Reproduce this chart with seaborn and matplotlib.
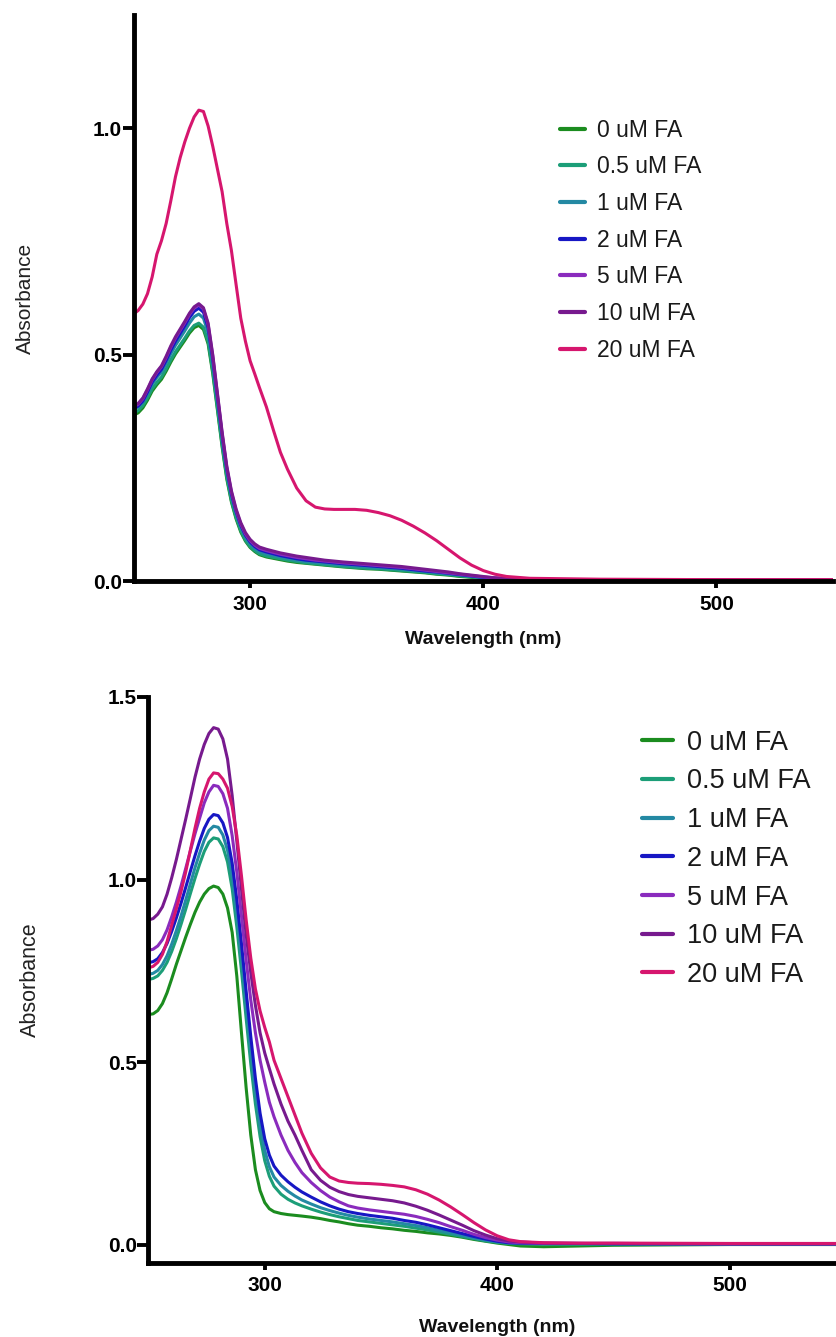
import matplotlib
matplotlib.use("Agg")
import pandas as pd
import matplotlib.pyplot as plt
import seaborn as sns

# wavelengths shared by every spectrum (nm)
wavelength = [250, 252, 254, 256, 258, 260, 262, 264, 266, 268, 270, 272, 274, 276, 278,
              280, 282, 284, 286, 288, 290, 292, 294, 296, 298, 300, 302, 304, 307, 310,
              313, 316, 320, 324, 328, 332, 336, 340, 345, 350, 355, 360, 365, 370, 375,
              380, 385, 390, 395, 400, 405, 410, 420, 435, 450, 500, 550]

labels = ["0 uM FA", "0.5 uM FA", "1 uM FA", "2 uM FA", "5 uM FA", "10 uM FA", "20 uM FA"]
colors = ["#1b8c1f", "#1c9e78", "#2489a3", "#1717c4", "#8a2bbd", "#771a8e", "#d6166e"]

xticks = [300, 400, 500]

# ---- top panel spectra
top_0 = [.367, .372, .383, .400, .420, .434, .446, .464, .484, .502, .517, .532, .548, .560, .565,
         .556, .524, .458, .378, .297, .226, .175, .138, .109, .089, .075, .066, .059, .054, .051,
         .048, .045, .042, .040, .038, .036, .034, .032, .030, .028, .027, .025, .023, .021, .019,
         .016, .014, .011, .009, .006, .004, .003, .003, .002, .002, .002, .002]
top_05 = [.372, .377, .388, .405, .425, .439, .451, .469, .489, .507, .522, .537, .553, .565, .570,
          .561, .529, .463, .382, .301, .230, .178, .141, .112, .091, .077, .068, .061, .056, .053,
          .050, .047, .044, .041, .039, .037, .035, .033, .031, .029, .028, .026, .024, .022, .020,
          .017, .015, .012, .010, .007, .005, .004, .003, .003, .003, .002, .002]
top_1 = [.380, .385, .396, .414, .435, .450, .462, .481, .502, .521, .537, .553, .570, .584, .590,
         .581, .548, .480, .397, .314, .241, .187, .149, .119, .098, .083, .073, .066, .061, .057,
         .054, .051, .047, .044, .042, .040, .038, .036, .034, .032, .030, .029, .027, .024, .022,
         .019, .016, .014, .011, .008, .006, .005, .004, .003, .003, .003, .003]
top_2 = [.382, .387, .398, .418, .440, .455, .468, .488, .510, .530, .547, .564, .582, .596, .603,
         .594, .560, .490, .406, .322, .248, .193, .154, .124, .102, .087, .077, .070, .065, .061,
         .057, .054, .050, .047, .045, .043, .041, .039, .037, .035, .033, .031, .029, .026, .023,
         .021, .018, .015, .012, .009, .007, .006, .004, .004, .003, .003, .003]
top_5 = [.386, .391, .403, .423, .445, .461, .474, .494, .517, .537, .554, .571, .589, .603, .610,
         .601, .567, .497, .412, .327, .252, .197, .157, .127, .105, .090, .080, .073, .068, .064,
         .060, .057, .053, .050, .047, .045, .043, .041, .039, .037, .035, .033, .031, .028, .025,
         .022, .019, .016, .013, .010, .008, .006, .005, .004, .004, .003, .003]
top_10 = [.388, .393, .405, .425, .447, .463, .476, .497, .520, .540, .557, .574, .592, .606, .613,
          .604, .570, .500, .415, .330, .255, .200, .160, .130, .108, .093, .083, .076, .071, .067,
          .063, .060, .056, .053, .050, .047, .045, .043, .041, .039, .037, .035, .033, .030, .027,
          .024, .021, .017, .014, .011, .008, .007, .005, .004, .004, .003, .003]
top_20 = [.590, .598, .612, .635, .672, .722, .752, .790, .840, .893, .935, .970, 1.000, 1.025, 1.040,
          1.037, 1.005, .960, .910, .860, .790, .730, .655, .581, .530, .487, .458, .428, .385, .334,
          .285, .248, .206, .178, .164, .160, .159, .159, .159, .157, .152, .145, .135, .122, .107,
          .090, .071, .052, .036, .024, .016, .011, .007, .006, .005, .004, .004]

# ---- bottom panel spectra
bot_0 = [.630, .632, .641, .660, .690, .728, .768, .805, .842, .877, .910, .938, .960, .975, .982,
         .978, .960, .922, .855, .735, .580, .430, .300, .205, .148, .115, .098, .090, .085, .082,
         .080, .078, .075, .071, .066, .062, .057, .053, .050, .046, .043, .039, .036, .032, .029,
         .025, .020, .014, .009, .004, .000, -.004, -.006, -.004, -.002, .000, .000]
bot_05 = [.726, .729, .736, .751, .773, .803, .838, .877, .918, .961, 1.003, 1.042, 1.077, 1.102, 1.114,
          1.111, 1.090, 1.048, .975, .870, .750, .620, .495, .385, .296, .230, .187, .160, .138, .124,
          .114, .106, .097, .089, .082, .076, .071, .066, .062, .058, .054, .050, .045, .040, .034,
          .028, .022, .016, .010, .006, .003, .002, .001, .001, .001, .001, .001]
bot_1 = [.740, .743, .751, .767, .791, .823, .860, .900, .943, .988, 1.032, 1.072, 1.108, 1.134, 1.146,
         1.143, 1.122, 1.080, 1.008, .905, .785, .655, .530, .418, .326, .258, .213, .185, .162, .146,
         .133, .122, .111, .101, .093, .086, .080, .075, .070, .066, .062, .057, .052, .046, .039,
         .032, .025, .018, .012, .007, .004, .003, .002, .002, .002, .001, .001]
bot_2 = [.772, .775, .783, .800, .825, .858, .895, .935, .978, 1.022, 1.065, 1.105, 1.140, 1.165, 1.178,
         1.175, 1.155, 1.115, 1.045, .945, .825, .695, .570, .455, .360, .290, .245, .215, .190, .172,
         .157, .144, .130, .117, .106, .097, .090, .085, .080, .076, .072, .066, .061, .054, .046,
         .038, .030, .022, .015, .009, .005, .004, .003, .003, .002, .002, .002]
bot_5 = [.806, .809, .818, .835, .862, .898, .938, .982, 1.030, 1.078, 1.125, 1.168, 1.210, 1.240, 1.258,
         1.255, 1.235, 1.195, 1.120, 1.020, .900, .780, .670, .580, .505, .445, .390, .350, .300, .258,
         .225, .197, .170, .148, .130, .117, .106, .100, .095, .091, .087, .083, .077, .069, .060,
         .049, .039, .028, .019, .012, .007, .005, .003, .003, .003, .002, .002]
bot_10 = [.889, .893, .905, .925, .960, 1.005, 1.055, 1.110, 1.165, 1.222, 1.280, 1.330, 1.370, 1.400, 1.416,
          1.412, 1.385, 1.330, 1.230, 1.105, .975, .850, .745, .655, .580, .525, .482, .440, .385, .338,
          .300, .258, .205, .176, .157, .145, .137, .132, .128, .124, .120, .114, .105, .094, .081,
          .067, .053, .038, .026, .016, .010, .007, .004, .003, .003, .002, .002]
bot_20 = [.758, .762, .773, .795, .830, .875, .920, .967, 1.020, 1.080, 1.140, 1.195, 1.240, 1.275, 1.292,
          1.290, 1.275, 1.250, 1.200, 1.120, 1.010, .890, .785, .700, .640, .595, .555, .505, .455, .405,
          .355, .305, .250, .210, .185, .174, .170, .168, .167, .165, .162, .158, .150, .138, .122,
          .103, .082, .060, .040, .024, .013, .008, .005, .004, .004, .003, .003]

top_series = [top_0, top_05, top_1, top_2, top_5, top_10, top_20]
bot_series = [bot_0, bot_05, bot_1, bot_2, bot_5, bot_10, bot_20]


def long_form(series):
    rows = []
    for lab, vals in zip(labels, series):
        for w, a in zip(wavelength, vals):
            rows.append((w, a, lab))
    return pd.DataFrame(rows, columns=["wavelength", "absorbance", "conc"])


#==========================================================================
#draw_panel
#one absorbance spectrum panel, GraphPad style
#==========================================================================
def draw_panel(ax, series, ylim, yticks, leg_size, leg_anchor, leg_spacing,
               handle_len, text_pad, ylab_x, ylab_size, xlab_y):
    df = long_form(series)
    sns.lineplot(data=df, x="wavelength", y="absorbance", hue="conc",
                 hue_order=labels, palette=colors, estimator=None,
                 linewidth=2.2, ax=ax)
    ax.set_xlim(250, 550)
    ax.set_ylim(*ylim)
    ax.set_xticks(xticks)
    ax.set_yticks(yticks)
    ax.set_yticklabels([f"{t:.1f}" for t in yticks])
    sns.despine(ax=ax)
    for side in ["left", "bottom"]:
        ax.spines[side].set_linewidth(3.5)
        ax.spines[side].set_color("black")
    ax.tick_params(axis="both", colors="black", width=2.8, labelsize=15)
    ax.tick_params(axis="y", length=8, pad=0.5)
    ax.tick_params(axis="x", length=5, pad=4.5)
    for lab in ax.get_xticklabels() + ax.get_yticklabels():
        lab.set_fontweight("bold")

    ax.set_xlabel("Wavelength (nm)", fontsize=14, fontweight="bold", color="#111111")
    ax.xaxis.set_label_coords(0.5, xlab_y)
    ax.set_ylabel("Absorbance", fontsize=ylab_size, color="#222222")
    ax.yaxis.set_label_coords(ylab_x, 0.5)

    handles, labs = ax.get_legend_handles_labels()
    leg = ax.legend(handles, labs, loc="upper left", bbox_to_anchor=leg_anchor,
                    bbox_transform=ax.figure.transFigure, frameon=False,
                    fontsize=leg_size, labelspacing=leg_spacing,
                    handlelength=handle_len, handletextpad=text_pad,
                    borderpad=0, borderaxespad=0)
    for line in leg.get_lines():
        line.set_linewidth(3)
    for txt in leg.get_texts():
        txt.set_color("#1a1a1a")


sns.set_style("ticks")
plt.rcParams["font.family"] = ["Liberation Sans", "DejaVu Sans"]

fig = plt.figure(figsize=(8.36, 13.37), dpi=100)
ax_top = fig.add_axes([0.1597, 0.5651, 0.8367, 0.4237])
ax_bot = fig.add_axes([0.1776, 0.0555, 0.8343, 0.4232])

draw_panel(ax_top, top_series, (0, 1.25), [0.0, 0.5, 1.0],
           leg_size=16.5, leg_anchor=(0.670, 0.9112), leg_spacing=0.595,
           handle_len=1.1, text_pad=0.52, ylab_x=-0.1414, ylab_size=15,
           xlab_y=-0.0873)
draw_panel(ax_bot, bot_series, (-0.05, 1.5), [0.0, 0.5, 1.0, 1.5],
           leg_size=19.5, leg_anchor=(0.7676, 0.4543), leg_spacing=0.47,
           handle_len=1.14, text_pad=0.55, ylab_x=-0.1537, ylab_size=15.5,
           xlab_y=-0.099)

fig.savefig("out.png", dpi=100)
